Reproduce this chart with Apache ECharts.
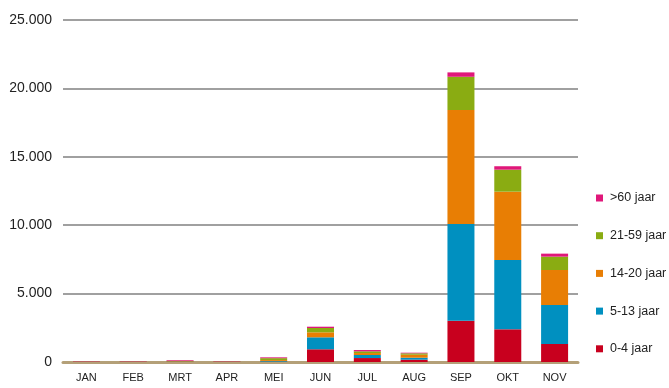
<!DOCTYPE html>
<html>
<head>
<meta charset="utf-8">
<script src="https://cdn.jsdelivr.net/npm/echarts@6/dist/echarts.min.js"></script>
<style>
html,body{margin:0;padding:0;background:#fff;}
#c{width:669px;height:388px;}
</style>
</head>
<body>
<div id="c"></div>
<script>
const categories = ['JAN','FEB','MRT','APR','MEI','JUN','JUL','AUG','SEP','OKT','NOV'];
const age0_4   = [10, 10, 15, 10, 20, 930, 290, 170, 3020, 2390, 1316];
const age5_13  = [10, 10, 20, 10, 50, 875, 220, 145, 7070, 5065, 2850];
const age14_20 = [10, 10, 25, 10, 70, 365, 145, 220, 8330, 4995, 2560];
const age21_59 = [15, 15, 30, 15, 140, 315, 125, 100, 2430, 1610, 975];
const age60    = [25, 25, 50, 25, 60, 95, 95, 45, 320, 250, 220];
const seriesNames = ['0-4 jaar','5-13 jaar','14-20 jaar','21-59 jaar','>60 jaar'];
const seriesData = [age0_4, age5_13, age14_20, age21_59, age60];
const colors = ['#c8001e','#0090c0','#e87e04','#8aac12','#e0177a'];

const chart = echarts.init(document.getElementById('c'));
chart.setOption({
  animation: false,
  textStyle: {fontFamily: 'Liberation Sans, Arial, sans-serif'},
  grid: {left: 63, right: 91, top: 20, bottom: 26, containLabel: false},
  legend: {
    orient: 'vertical',
    left: 591,
    top: 186,
    data: seriesNames.slice().reverse(),
    icon: 'rect',
    itemWidth: 7,
    itemHeight: 7,
    itemGap: 23.7,
    textStyle: {fontSize: 12.5, color: '#222', lineHeight: 14, padding: [0,0,0,2]}
  },
  xAxis: {
    type: 'category',
    data: categories,
    axisLine: {lineStyle: {color: '#b4a078', width: 3}},
    axisTick: {show: false},
    axisLabel: {color: '#222', fontSize: 11, margin: 10}
  },
  yAxis: {
    type: 'value',
    min: 0,
    max: 25000,
    interval: 5000,
    axisLine: {show: false},
    axisTick: {show: false},
    splitLine: {lineStyle: {color: '#a0a0a0', width: 2}},
    axisLabel: {
      color: '#222', fontSize: 14, margin: 11,
      formatter: v => v.toString().replace(/\B(?=(\d{3})+(?!\d))/g, '.')
    }
  },
  series: seriesNames.map((n, i) => ({
    name: n,
    type: 'bar',
    stack: 'total',
    barWidth: 27,
    data: seriesData[i],
    itemStyle: {color: colors[i]}
  }))
});
</script>
</body>
</html>
